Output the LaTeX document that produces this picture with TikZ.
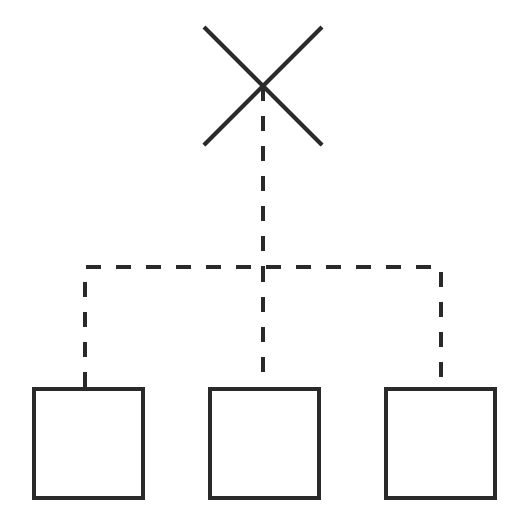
\documentclass[tikz,border=0pt]{standalone}
\usetikzlibrary{shapes.misc}
\definecolor{ink}{HTML}{2A2A2A}
\tikzset{
 leaf/.style={draw=ink,line width=4pt,minimum size=109pt,inner sep=0pt},
 link/.style={draw=ink,line width=4pt,dash pattern=on 15pt off 15pt}
}
\begin{document}
\begin{tikzpicture}[x=1pt,y=-1pt]
 \useasboundingbox (0,0) rectangle (528,528);
 \node[cross out,draw=ink,line width=4pt,minimum size=114pt,inner sep=0pt] (root) at (263,86) {};
 \node[leaf] (boxa) at (88,443) {};
 \node[leaf] (boxb) at (264,443) {};
 \node[leaf] (boxc) at (440,443) {};
 \coordinate (split) at (263,267);
 \coordinate (forka) at (85,267);
 \coordinate (forkc) at (441,267);
 \draw[link] (root.center) -- (split);
 \draw[link] (split) -- (split |- boxb.north);
 \draw[link] (forka |- boxa.north) -- (forka) -- (forkc) -- (forkc |- boxc.north);
\end{tikzpicture}
\end{document}
